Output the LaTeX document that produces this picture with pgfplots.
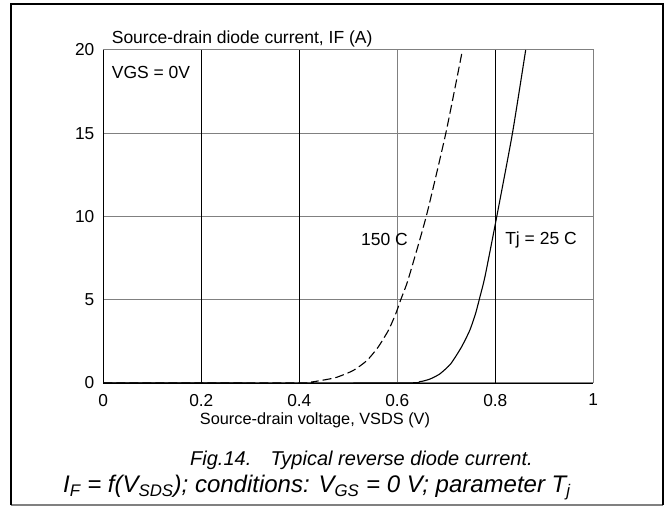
\documentclass[border=0pt]{standalone}
\usepackage{pgfplots}
\pgfplotsset{compat=1.18}
\usepackage{fontspec}
\setmainfont{Liberation Sans}

% 150 C curve (dashed)
\pgfplotstableread{
x y
0 0
0.40 0.0
0.425 0.06
0.450 0.18
0.476 0.34
0.510 0.75
0.538 1.35
0.561 2.16
0.582 3.17
0.597 4.17
0.607 5.0
0.622 6.2
0.659 10
0.699 15
0.733 20
}\hot
% Tj = 25 C curve (solid)
\pgfplotstableread{
x y
0 0
0.60 0
0.646 0.08
0.667 0.24
0.687 0.55
0.709 1.15
0.731 2.16
0.748 3.17
0.760 4.2
0.768 5.1
0.779 6.4
0.803 10
0.835 15
0.862 20
}\cold

\begin{document}
\begin{tikzpicture}[x=1pt,y=1pt]
\fontsize{17.5}{21}\selectfont
\begin{axis}[
  at={(0,0)}, anchor=south west,
  scale only axis, width=490pt, height=333pt,
  xmin=0, xmax=1, ymin=0, ymax=20,
  xtick={0,0.2,0.4,0.6,0.8,1},
  xticklabels={0,0.2,0.4,0.6,0.8,1},
  ytick={0,5,10,15,20},
  major tick length=0pt,
  grid=major,
  major grid style={gray, line width=1pt},
  axis line style={gray, line width=1pt},
  extra x ticks={0,0.2,0.4,0.8}, extra x tick labels={},
  extra y ticks={0}, extra y tick labels={},
  extra tick style={grid=major, major grid style={black, line width=0.8pt}},
  tick label style={font=\fontsize{17.3}{20}\selectfont},
  /pgf/number format/assume math mode=true,
  xticklabel style={yshift=-5pt},
  yticklabel style={xshift=-3pt},
  clip=false,
]
\addplot[black, line width=1.1pt, smooth, tension=0.35, dash pattern=on 9pt off 4pt] table {\hot};
\addplot[black, line width=1.1pt, smooth, tension=0.35] table {\cold};
\node[anchor=east, inner sep=0pt] at (axis cs:0.622,8.6) {150 C};
\node[anchor=west, inner sep=0pt] at (axis cs:0.82,8.6) {Tj = 25 C};
\node[anchor=west, inner sep=0pt] at (axis cs:0.017,18.67) {VGS = 0V};
\node[anchor=south west, inner sep=0pt] at (axis cs:0.017,20) [yshift=3pt] {Source-drain diode current, IF (A)};
\end{axis}
\node[font=\fontsize{16.3}{19}\selectfont] at (211.7,-37) {Source-drain voltage, VSDS (V)};
\node[anchor=base west, inner sep=0pt, font=\fontsize{20}{24}\selectfont\itshape] at (86.7,-83)
  {Fig.14.\hspace{0.6em} Typical reverse diode current.};
\node[anchor=base west, inner sep=0pt, font=\fontsize{24}{28}\selectfont\itshape] at (-40.3,-110)
  {I\textsubscript{F} = f(V\textsubscript{SDS}); conditions: V\textsubscript{GS} = 0 V; parameter T\textsubscript{j}};
\draw[gray, line width=1.5pt] (-92.3,-122) -- (559.7,-122);
\draw[black, line width=2pt] (-92.3,-122) -- (-92.3,379) -- (559.7,379) -- (559.7,-122);
\useasboundingbox (-103.3,-123) rectangle (563.7,383);
\end{tikzpicture}
\end{document}
